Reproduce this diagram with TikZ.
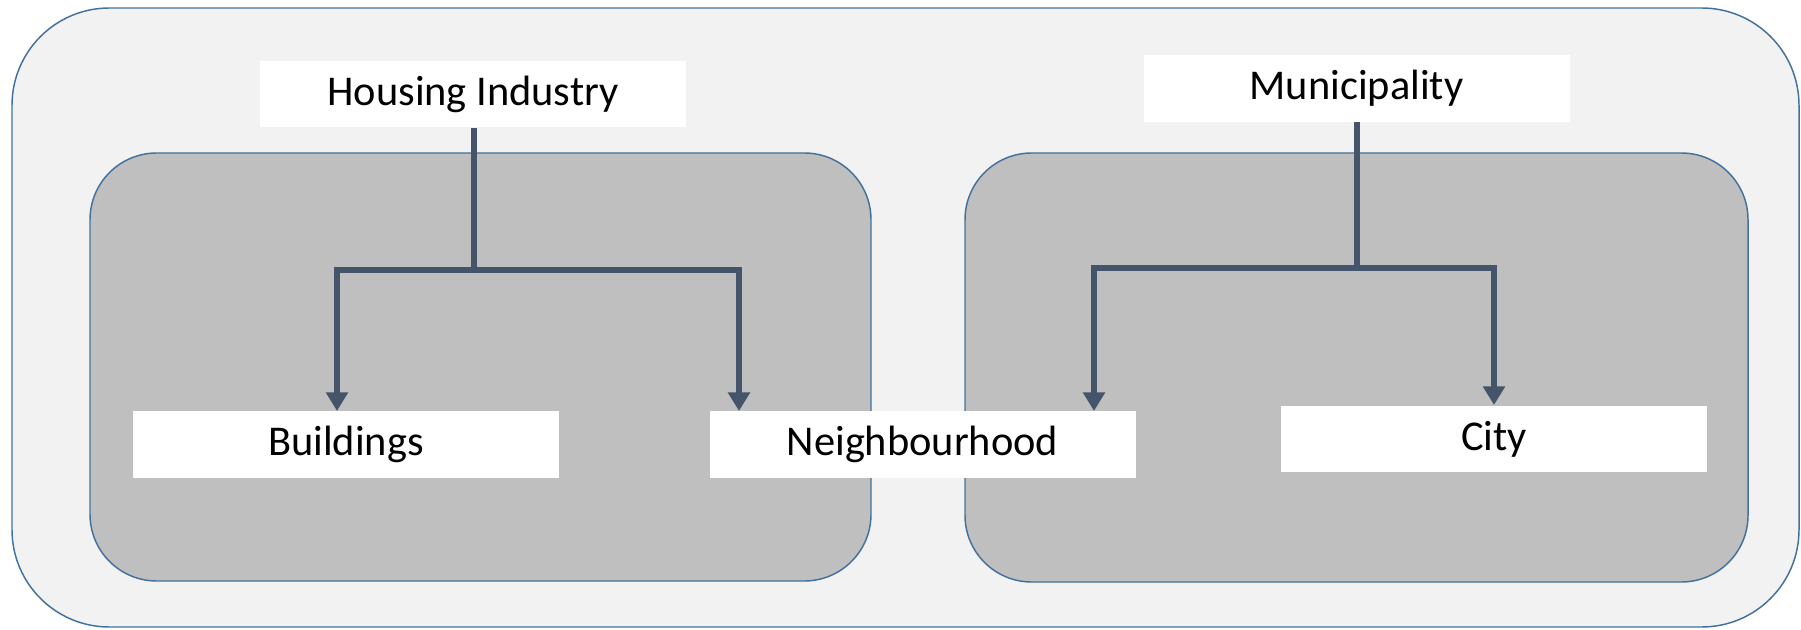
\documentclass[tikz,border=0pt]{standalone}
\usepackage{fontspec}
\setmainfont{Carlito}
\usetikzlibrary{arrows.meta}
\definecolor{outerfill}{HTML}{F2F2F2}
\definecolor{innerfill}{HTML}{BFBFBF}
\definecolor{boxline}{HTML}{41719C}
\definecolor{connline}{HTML}{44546A}
\tikzset{
  outerbox/.style={draw=boxline, line width=1.1pt, fill=outerfill, rounded corners=73pt},
  innerbox/.style={draw=boxline, line width=1.1pt, fill=innerfill, rounded corners=50pt},
  label box/.style={fill=white, draw=none, minimum width=319.5pt, minimum height=50pt, inner sep=0pt,
    font=\fontsize{31.8}{38}\selectfont},
  conn/.style={draw=connline, line width=5pt},
  connarrow/.style={conn, -{Triangle[width=16pt,length=14pt]}, shorten >=0pt},
}
\begin{document}
\begin{tikzpicture}[x=0.75pt,y=-0.75pt]
\useasboundingbox (0,0) rectangle (1801,630);
% containers
\draw[outerbox] (12,8) rectangle (1799,627);
\draw[innerbox] (90,153) rectangle (871,581);
\draw[innerbox] (965,153) rectangle (1748,582);
% labels
\node[label box] (HI) at (473,94) {Housing Industry};
\node[label box] (Mun) at (1356.5,88.5) {Municipality};
\node[label box] (Bld) at (346,444.5) {Buildings};
\node[label box] (Nb) at (922.5,444.5) {Neighbourhood};
\node[label box] (City) at (1494,439) {City};
% junctions and arrow tips
\coordinate (hj) at (474,270);
\coordinate (mj) at (1357,268);
\coordinate (tBld) at (337,411);
\coordinate (tNbL) at (739,411);
\coordinate (tNbR) at (1094,411);
\coordinate (tCity) at (1494,405);
% connectors
\draw[conn] (HI.south -| hj) -- (hj);
\draw[connarrow] (hj) -| (tBld);
\draw[connarrow] (hj) -| (tNbL);
\draw[conn] (Mun.south -| mj) -- (mj);
\draw[connarrow] (mj) -| (tNbR);
\draw[connarrow] (mj) -| (tCity);
\end{tikzpicture}
\end{document}
